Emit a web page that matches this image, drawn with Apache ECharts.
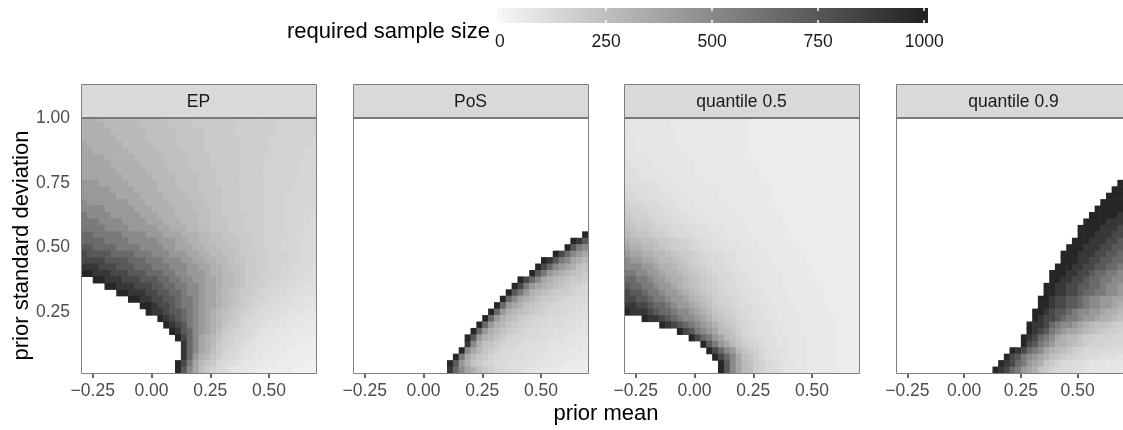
<!DOCTYPE html>
<html>
<head>
<meta charset="utf-8">
<title>required sample size</title>
<script src="https://cdn.jsdelivr.net/npm/echarts@6.0.0/dist/echarts.min.js"></script>
<style>
  html, body { margin: 0; padding: 0; background: #fff; }
  #chart { width: 1123px; height: 430px; }
</style>
</head>
<body>
<div id="chart"></div>
<script>
// facet names, left to right
const panelNames = ['EP', 'PoS', 'quantile 0.5', 'quantile 0.9'];

// grid of prior means (cell centres) and prior sds (top row first)
const meanValues = [-0.2875, -0.2625, -0.2375, -0.2125, -0.1875, -0.1625, -0.1375, -0.1125, -0.0875, -0.0625,
  -0.0375, -0.0125, 0.0125, 0.0375, 0.0625, 0.0875, 0.1125, 0.1375, 0.1625, 0.1875,
  0.2125, 0.2375, 0.2625, 0.2875, 0.3125, 0.3375, 0.3625, 0.3875, 0.4125, 0.4375,
  0.4625, 0.4875, 0.5125, 0.5375, 0.5625, 0.5875, 0.6125, 0.6375, 0.6625, 0.6875];
const sdValues = [1.000, 0.975, 0.950, 0.925, 0.900, 0.875, 0.850, 0.825, 0.800, 0.775,
  0.750, 0.725, 0.700, 0.675, 0.650, 0.625, 0.600, 0.575, 0.550, 0.525,
  0.500, 0.475, 0.450, 0.425, 0.400, 0.375, 0.350, 0.325, 0.300, 0.275,
  0.250, 0.225, 0.200, 0.175, 0.150, 0.125, 0.100, 0.075, 0.050, 0.025];

const meanTicks = [-0.25, 0, 0.25, 0.5];
const meanTickLabels = ['\u22120.25', '0.00', '0.25', '0.50'];
const sdTicks = [0.25, 0.5, 0.75, 1];
const sdTickLabels = ['0.25', '0.50', '0.75', '1.00'];
const legendTicks = [0, 250, 500, 750, 1000];
const legendTickLabels = ['0', '250', '500', '750', '1000'];

// required sample size, one letter per cell ('.' = no value)
const levelCodes = 'abcdefghijklmnopqrstuvwxyz';
const levelValues = [10, 25, 40, 55, 70, 85, 100, 115, 130, 145, 160, 180, 200,
  225, 250, 280, 320, 370, 430, 500, 580, 660, 740, 820, 900, 980];

const NA_ROW = '.... .... .... .... .... .... .... .... .... ....';

const epRows = [
  'qqqp pppp pooo oonn nnnm mmmm mmll llll llkk kkkk',
  'qqqq pppp ppoo ooon nnnm mmmm mmll llll lkkk kkkk',
  'qqqq qppp pppo oooo nnnn nmmm mmll llll lkkk kkkk',
  'qqqq qqpp pppo oooo nnnn nmmm mmml llll kkkk kkkk',
  'rqqq qqqp pppp oooo nnnn nmmm mmml llll kkkk kkkj',
  'rrqq qqqq pppp pooo onnn nmmm mmml llll kkkk kkjj',
  'rrrr qqqq qppp ppoo oonn nnmm mmml lllk kkkk kkjj',
  'rrrr rqqq qqpp ppoo oonn nnmm mmml lllk kkkk kjjj',
  'rrrr rrqq qqqp pppo ooon nnnm mmml lllk kkkk kjjj',
  'rrrr rrrq qqqq pppp oooo nnnm mmml lllk kkkk kjjj',
  'sssr rrrr qqqq qppp oooo nnnm mmml lllk kkkk jjjj',
  'ssss srrr rqqq qppp pooo nnnn mmml lllk kkkk jjjj',
  'ssss ssrr rrqq qqpp ppoo onnn mmml lllk kkkj jjjj',
  'tsss ssss rrrq qqqp pppo onnn mmml lllk kkkj jjjj',
  'tttt ssss srrr qqqq pppo oonn mmml lllk kkkj jjjj',
  'uttt tsss ssrr rqqq pppp oonn mmmm lllk kkkj jjji',
  'uuut ttts sssr rrqq qppp oonn nmmm lllk kkkj jjji',
  'uuuu tttt ssss srrq qqpp oonn nmmm lllk kkkj jjii',
  'vvuu uuut ttts ssrr rqqq ppoo nnmm mllk kkkj jjii',
  'vvvv uuuu tttt tsss rrqq ppoo nnnm mllk kkjj jiii',
  'wwvv vvuu uutt ttss rrrq qppo onnm mllk kkjj jiii',
  'xwww wvvv vuuu ttts ssrr qqpp oonm mmll kkkj jiii',
  'xxxx wwww vvvu uutt tssr rqqp ponn mmll kkkj jiii',
  'yyyx xxww wvvv uuut ttss rrqq poon mmll kkjj iiih',
  'zzyy yxxx wwwv vvuu ttss srqq ppon mmll kkjj iihh',
  '..zz yyyx xxww wvvu utts srrq ppon mmlk kjji ihhh',
  '.... zzyy yxxx wwvv uutt srrq ppon mllk jjii hhgg',
  '.... ..zz yyyx xwwv vutt srrq ponm mlkj jiih hggg',
  '.... .... zzyy xxww vuut srrq ponm lkkj iihh ggff',
  '.... .... ..zz yxxw vuut srrq ponm lkji hhgg gfff',
  '.... .... ...z yyxw wvut srqp onml kjih hggf ffee',
  '.... .... .... .zyx wvut srqp onmk jiih ggff eeee',
  '.... .... .... ..zy xwut srqp nmlj iihg fffe eedd',
  '.... .... .... ...z ywvt srqo mlkj ihgf feee dddd',
  '.... .... .... .... zxvt rqpn lkji hgff eedd dddc',
  '.... .... .... .... .yvt rqpm lkih gffe eddd dccc',
  '.... .... .... .... .yvt rqom kjig ffee dddc cccc',
  '.... .... .... .... .yvs qpnl jihg feed ddcc cccc',
  '.... .... .... .... zxur pnmj ihgf eedd dccc ccbb',
  '.... .... .... .... zwtr omki hfee ddcc cccc bbbb'
];

const posRows = [
  NA_ROW, NA_ROW, NA_ROW, NA_ROW, NA_ROW, NA_ROW, NA_ROW, NA_ROW, NA_ROW,
  NA_ROW, NA_ROW, NA_ROW, NA_ROW, NA_ROW, NA_ROW, NA_ROW, NA_ROW, NA_ROW,
  '.... .... .... .... .... .... .... .... .... ...z',
  '.... .... .... .... .... .... .... .... .... .zyw',
  '.... .... .... .... .... .... .... .... .... zwut',
  '.... .... .... .... .... .... .... .... ..zx vtsr',
  '.... .... .... .... .... .... .... .... zywu trqp',
  '.... .... .... .... .... .... .... ...z xvts rqon',
  '.... .... .... .... .... .... .... ..zw usrq ponm',
  '.... .... .... .... .... .... .... zxvt rqpo nmml',
  '.... .... .... .... .... .... ...z xusr qpon mlkj',
  '.... .... .... .... .... .... ..zw usqp onml lkjj',
  '.... .... .... .... .... .... .zvt rqpn mmlk jjii',
  '.... .... .... .... .... .... zvsr qonm lkjj iihh',
  '.... .... .... .... .... ...z vsqp onml kjji ihhg',
  '.... .... .... .... .... ..zv sqpo mlkj jiih hhgg',
  '.... .... .... .... .... .zvs qpnm lkjj ihhh gggf',
  '.... .... .... .... .... zvsq pnml kjii hhgg ggff',
  '.... .... .... .... ...z wsqp nmkj jiih hggg fffe',
  '.... .... .... .... ...y tqon mkjj ihhg gfff ffee',
  '.... .... .... .... ..zt rpnm kjii hhgg gfff eeed',
  '.... .... .... .... .zur pnmk jiih hggf ffee eedd',
  '.... .... .... .... zwsq nmkj iihg gggf ffee dddc',
  '.... .... .... .... yvtr qoml jihh gffe eddc cccc'
];

const q50Rows = [
  'eeee eeee dddd dddd dddd dccc cccc cccc cccc cccc',
  'eeee eeee dddd dddd dddd dccc cccc cccc cccc cccc',
  'feee eeee eddd dddd dddd dccc cccc cccc cccc cccc',
  'ffee eeee eddd dddd dddd dccc cccc cccc cccc cccc',
  'ffee eeee eddd dddd dddd dccc cccc cccc cccc cccc',
  'ffee eeee eedd dddd dddd dccc cccc cccc cccc cccc',
  'ffff eeee eeed dddd dddd ddcc cccc cccc cccc cccc',
  'gfff feee eeee dddd dddd ddcc cccc cccc cccc cccc',
  'ggff ffee eeee dddd dddd dddc cccc cccc cccc cccc',
  'gggf ffff eeee eddd dddd dddc cccc cccc cccc cccc',
  'hhgg gfff feee eedd dddd dddd cccc cccc cccc cccc',
  'ihhh ggff ffee eeee dddd dddd dccc cccc cccc cccc',
  'iihh gggf fffe eeee dddd dddd dccc cccc cccc cccc',
  'kjji hhgg gfff eeee eddd dddd dccc cccc cccc cccc',
  'lkkj iihh ggff feee eedd dddd ddcc cccc cccc cccc',
  'mlkk jiih hggf ffee eeed dddd dddc cccc cccc cccc',
  'nmll kjii hhgg fffe eeee dddd dddc cccc cccc cccc',
  'onmm lkkj iihh ggff feee eddd dddd cccc cccc cccc',
  'ponn mllk jiih gggf ffee eedd dddd cccc cccc cccc',
  'qppo onmm lkkj ihhg ffff eeed dddd dccc cccc cccc',
  'rqqp ponm llkj ihhg gfff eeed dddd ddcc cccc cccc',
  'srrq qppo nmml kjii hggf ffee eddd dddc cccc cccc',
  'tssr rqpp onml kjii hggf ffee eddd dddc cccc cccc',
  'ttts srqq ponm lkji ihgg fffe eedd dddd cccc cccc',
  'uutt ssrq qpon mlkj iihg gffe eeed dddd cccc cccc',
  'vvuu tssr qqpo nmlk jihg gffe eeed dddd dccc cccc',
  'wvvu utss rqpo nmlk jiih ggff eeed dddd ddcc cccc',
  'xwwv uuts srqp onml kjih ggff eeee dddd ddcc cccc',
  'xxww vuut ssrq ponl kkji hggf feee dddd ddcc cccc',
  'yyxx wvvu tssr qpom lkji hhgf feee eddd dddc cccc',
  'zyyy xwvv utts rqpn mlkj ihgg ffee eddd dddc cccc',
  '...z yyxw vutt srqo nmlj ihhg ffee eedd dddd cccc',
  '.... ..zy xwvu tsrq onmk jihg gffe eedd dddd cccc',
  '.... .... .zxw utsr ponl jihg gffe eedd dddd cccc',
  '.... .... ...z xvus rpom kjih ggff eeed dddd cccc',
  '.... .... .... .zwu srpn lkjh ggff eeed dddd cccc',
  '.... .... .... ..zx vtsp nlki hggf eeed dddd cccc',
  '.... .... .... ...z xvtr onlj hggf eeed dddd cccc',
  '.... .... .... .... zwtr polk ihgf feed dddd cccc',
  '.... .... .... .... zwtr polk ihgf feed dddd cccc'
];

const q90Rows = [
  NA_ROW, NA_ROW, NA_ROW, NA_ROW, NA_ROW, NA_ROW, NA_ROW, NA_ROW, NA_ROW, NA_ROW,
  '.... .... .... .... .... .... .... .... .... ...z',
  '.... .... .... .... .... .... .... .... .... ..zz',
  '.... .... .... .... .... .... .... .... .... .zzz',
  '.... .... .... .... .... .... .... .... .... zzzz',
  '.... .... .... .... .... .... .... .... ...z zzzz',
  '.... .... .... .... .... .... .... .... ..zz zzzy',
  '.... .... .... .... .... .... .... .... .zzz zyyy',
  '.... .... .... .... .... .... .... .... zzzz yyyx',
  '.... .... .... .... .... .... .... .... zzzy yyxx',
  '.... .... .... .... .... .... .... ...z zzyy yxxw',
  '.... .... .... .... .... .... .... ..zz zyyy xxww',
  '.... .... .... .... .... .... .... .zzz yyyx xwwv',
  '.... .... .... .... .... .... .... .zzz yyxx wwvv',
  '.... .... .... .... .... .... .... zzzy yxxw wvvu',
  '.... .... .... .... .... .... ...z zzyy xxwv vuut',
  '.... .... .... .... .... .... ...z zyyx xwvv uutt',
  '.... .... .... .... .... .... ..zz yyxx wwvv utts',
  '.... .... .... .... .... .... ..zz yyxx wvvu utts',
  '.... .... .... .... .... .... .zzy xxww vutt ssrr',
  '.... .... .... .... .... .... .zzy xxww vutt ssrq',
  '.... .... .... .... .... .... zzyx wwvu ttss rqqp',
  '.... .... .... .... .... .... zyxx wvuu tssr qqpo',
  '.... .... .... .... .... ...z yyxv utts rqpo onml',
  '.... .... .... .... .... ...z yxwu tsrr qpon mllk',
  '.... .... .... .... .... ..zy xvut rqpp nmlk kkjj',
  '.... .... .... .... .... ..zx wuts qqpo nlkk kjjj',
  '.... .... .... .... .... zyxv utrq ponl kjji iihh',
  '.... .... .... .... ...z xwut srqo nmlk jihh gggf',
  '.... .... .... .... ..zy xvus rqnm kiih hgff feee',
  '.... .... .... .... .zyx vusr qnmk iihh gfff eeed'
];

const panelRows = [epRows, posRows, q50Rows, q90Rows];

// layout
const FONT = "'Liberation Sans', Arial, Helvetica, sans-serif";
const panelLeft = [81, 353, 624, 896];
const PANEL_TOP = 118, PANEL_W = 235, PANEL_H = 255, STRIP_TOP = 84;
const CELL = 0.025;
const greys = ['#f5f5f5', '#bfbfbf', '#8a8a8a', '#575757', '#222222'];
const legendRange = [-7, 1009];

function toSeriesData(rows) {
  const out = [];
  rows.forEach((row, r) => {
    const codes = row.replace(/\s+/g, '');
    if (codes.length !== meanValues.length) throw new Error('bad row ' + r + ': ' + codes.length);
    for (let c = 0; c < codes.length; c++) {
      const k = levelCodes.indexOf(codes[c]);
      if (k < 0) continue;
      out.push([meanValues[c], sdValues[r], levelValues[k]]);
    }
  });
  return out;
}

function tickLabel(ticks, labels) {
  return (v) => {
    const k = ticks.findIndex((t) => Math.abs(t - v) < 1e-9);
    return k >= 0 ? labels[k] : '';
  };
}

function renderCell(params, api) {
  const m = api.value(0), sd = api.value(1);
  const a = api.coord([m - CELL / 2, sd + CELL / 2]);
  const b = api.coord([m + CELL / 2, sd - CELL / 2]);
  const cs = params.coordSys;
  const shape = echarts.graphic.clipRectByRect(
    { x: a[0], y: a[1], width: b[0] - a[0] + 0.6, height: b[1] - a[1] + 0.6 },
    { x: cs.x, y: cs.y, width: cs.width, height: cs.height }
  );
  return shape && { type: 'rect', shape: shape, style: { fill: api.visual('color') } };
}

const grids = panelLeft.map((l) => ({ left: l, top: PANEL_TOP, width: PANEL_W, height: PANEL_H }));
grids.push({ left: 497, top: 8, width: 431, height: 15 });

const xAxes = panelLeft.map((l, i) => ({
  gridIndex: i, type: 'value', min: -0.3, max: 0.7,
  axisLine: { show: false },
  splitLine: { show: false },
  axisTick: { show: true, customValues: meanTicks, length: 5, lineStyle: { color: '#333333', width: 1.5 } },
  axisLabel: {
    show: true, customValues: meanTicks, margin: 9, fontSize: 17.5, color: '#4d4d4d',
    fontFamily: FONT, formatter: tickLabel(meanTicks, meanTickLabels)
  }
}));
xAxes.push({
  gridIndex: 4, type: 'value', min: legendRange[0], max: legendRange[1], position: 'bottom', z: 5,
  axisLine: { show: false }, splitLine: { show: false },
  axisTick: { show: true, inside: true, customValues: legendTicks, length: 3, lineStyle: { color: '#ffffff', width: 1.5 } },
  axisLabel: {
    show: true, customValues: legendTicks, margin: 10, fontSize: 17.5, color: '#1a1a1a',
    fontFamily: FONT, formatter: tickLabel(legendTicks, legendTickLabels)
  }
});
xAxes.push({
  gridIndex: 4, type: 'value', min: legendRange[0], max: legendRange[1], position: 'top', z: 5,
  axisLine: { show: false }, splitLine: { show: false }, axisLabel: { show: false },
  axisTick: { show: true, inside: true, customValues: legendTicks, length: 3, lineStyle: { color: '#ffffff', width: 1.5 } }
});

const yAxes = panelLeft.map((l, i) => ({
  gridIndex: i, type: 'value', min: 0.0125, max: 1.0025,
  axisLine: { show: false },
  splitLine: { show: false },
  axisTick: { show: i === 0, customValues: sdTicks, length: 5, lineStyle: { color: '#333333', width: 1.5 } },
  axisLabel: {
    show: i === 0, customValues: sdTicks, margin: 11, fontSize: 17.5, color: '#4d4d4d',
    fontFamily: FONT, formatter: tickLabel(sdTicks, sdTickLabels)
  }
}));
yAxes.push({ gridIndex: 4, type: 'value', min: 0, max: 1, show: false });

const series = panelRows.map((rows, i) => ({
  type: 'custom', xAxisIndex: i, yAxisIndex: i,
  dimensions: ['mean', 'sd', 'n'], encode: { x: 0, y: 1 },
  renderItem: renderCell, silent: true,
  data: toSeriesData(rows)
}));
series.push({
  type: 'custom', xAxisIndex: 4, yAxisIndex: 4, silent: true,
  data: [legendRange],
  renderItem: (params, api) => {
    const a = api.coord([api.value(0), 1]);
    const b = api.coord([api.value(1), 0]);
    const span = legendRange[1] - legendRange[0];
    return {
      type: 'rect',
      shape: { x: a[0], y: a[1], width: b[0] - a[0], height: b[1] - a[1] },
      style: {
        fill: new echarts.graphic.LinearGradient(0, 0, 1, 0, greys.map((c, k) => ({
          offset: (legendTicks[k] - legendRange[0]) / span, color: c
        })))
      }
    };
  }
});

const graphics = [];
panelLeft.forEach((l, i) => {
  graphics.push({
    type: 'rect', z: 10, silent: true,
    shape: { x: l + 0.5, y: STRIP_TOP + 0.5, width: PANEL_W, height: PANEL_TOP - STRIP_TOP },
    style: { fill: '#d9d9d9', stroke: '#7f7f7f', lineWidth: 1 }
  });
  graphics.push({
    type: 'text', z: 11, silent: true, x: l + PANEL_W / 2, y: (STRIP_TOP + PANEL_TOP) / 2 + 1,
    style: { text: panelNames[i], font: '17.5px ' + FONT, fill: '#1a1a1a', align: 'center', verticalAlign: 'middle' }
  });
  graphics.push({
    type: 'rect', z: 10, silent: true,
    shape: { x: l + 0.5, y: PANEL_TOP + 0.5, width: PANEL_W, height: PANEL_H },
    style: { fill: 'none', stroke: '#7f7f7f', lineWidth: 1 }
  });
  graphics.push({
    type: 'line', z: 10, silent: true,
    shape: { x1: l, y1: PANEL_TOP, x2: l + PANEL_W + 1, y2: PANEL_TOP },
    style: { stroke: '#7a7a7a', lineWidth: 2 }
  });
});
graphics.push({
  type: 'text', silent: true, x: 22, y: PANEL_TOP + PANEL_H / 2, rotation: Math.PI / 2,
  style: { text: 'prior standard deviation', font: '22px ' + FONT, fill: '#000', align: 'center', verticalAlign: 'middle' }
});
graphics.push({
  type: 'text', silent: true, x: (panelLeft[0] + panelLeft[3] + PANEL_W) / 2, y: 414,
  style: { text: 'prior mean', font: '22px ' + FONT, fill: '#000', align: 'center', verticalAlign: 'middle' }
});

const chart = echarts.init(document.getElementById('chart'), null, { renderer: 'canvas' });
chart.setOption({
  animation: false,
  backgroundColor: '#ffffff',
  title: {
    text: 'required sample size', left: 287, top: 21, padding: 0,
    textStyle: { fontSize: 22, fontWeight: 'normal', color: '#000', fontFamily: FONT }
  },
  visualMap: {
    type: 'continuous', show: false, min: 0, max: 1000, dimension: 2,
    seriesIndex: [0, 1, 2, 3], inRange: { color: greys }
  },
  grid: grids,
  xAxis: xAxes,
  yAxis: yAxes,
  series: series,
  graphic: graphics
});
</script>
</body>
</html>
